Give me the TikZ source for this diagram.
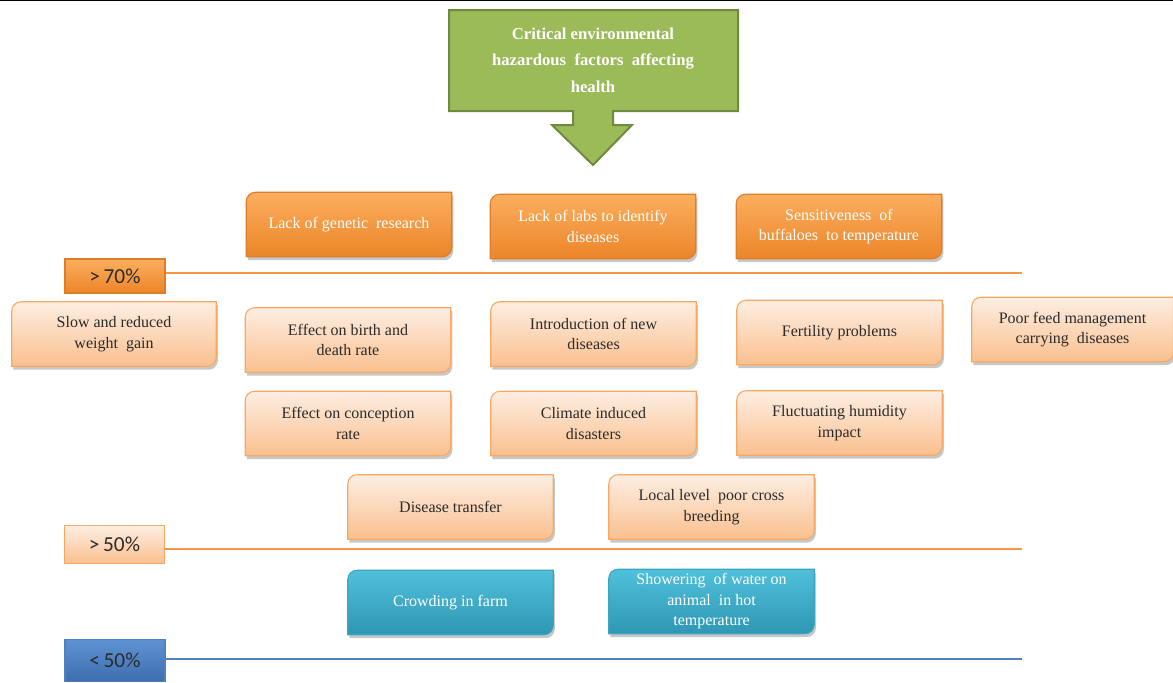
\documentclass[tikz,border=0pt]{standalone}
\usepackage{fontspec}
\setmainfont{Liberation Serif}
\newfontfamily\calib{Carlito}
\usetikzlibrary{backgrounds}
\definecolor{gfill}{HTML}{9BBB59}
\definecolor{gline}{HTML}{71893F}
\definecolor{otop}{HTML}{FBAE5E}
\definecolor{obot}{HTML}{EC8529}
\definecolor{oline}{HTML}{E07B28}
\definecolor{ltop}{HTML}{FDEEE2}
\definecolor{lbot}{HTML}{FAC08F}
\definecolor{lline}{HTML}{F8A862}
\definecolor{btop}{HTML}{4FC0DB}
\definecolor{bbot}{HTML}{2F97B3}
\definecolor{bline}{HTML}{3BA5C2}
\definecolor{ntop}{HTML}{5E93D3}
\definecolor{nbot}{HTML}{3D6EAF}
\definecolor{rule}{HTML}{F79646}
\definecolor{rulb}{HTML}{4F81BD}
\definecolor{txt}{HTML}{2B2B2B}
\tikzset{
  boxtext/.style={inner sep=0pt, minimum width=153.75pt, minimum height=48pt, align=center,
     font=\fontsize{12}{15.4}\selectfont},
  darkbox/.style={boxtext, text=white},
  lightbox/.style={boxtext, text=txt},
  bluebox/.style={boxtext, text=white},
  darkfill/.style={top color=otop, bottom color=obot, draw=oline, line width=0.8pt},
  lightfill/.style={top color=ltop, bottom color=lbot, draw=lline, line width=0.8pt},
  bluefill/.style={top color=btop, bottom color=bbot, draw=bline, line width=0.8pt},
  shadowfill/.style={fill=black, fill opacity=0.22},
  pct/.style={inner sep=0pt, minimum width=75pt, font=\calib\fontsize{16}{18}\selectfont, text=txt, line width=0.8pt},
  levelline/.style={line width=1.6pt},
}
% #1 node, #2 style, #3 radius, #4 dx, #5 dy
\newcommand{\dpath}[5]{%
  \path[#2]
    ([xshift=#4,yshift=#5-#3]#1.north west) arc[start angle=180,end angle=90,radius=#3]
    -- ([xshift=#4,yshift=#5]#1.north east) -- ([xshift=#4,yshift=#5+#3]#1.south east)
    arc[start angle=0,end angle=-90,radius=#3]
    -- ([xshift=#4,yshift=#5]#1.south west) -- cycle;}
\newcommand{\diagshape}[3]{%
  \begin{pgfonlayer}{background}
  \dpath{#1}{shadowfill}{#3}{1.2pt}{-2.6pt}
  \dpath{#1}{#2}{#3}{0pt}{0pt}
  \end{pgfonlayer}}
\begin{document}
\begin{tikzpicture}[x=0.75pt, y=-0.75pt]
\useasboundingbox (0,0) rectangle (1173,682);
\draw[black, line width=1.2pt] (0,0.6) -- (1173,0.6);

% title callout
\path[fill=gfill, draw=gline, line width=1.5pt, line join=miter]
  (449,10) -- (738,10) -- (738,111) -- (613,111) -- (613,125) -- (632,125) -- (593,165)
  -- (552,125) -- (573,125) -- (573,111) -- (449,111) -- cycle;
\node[text=white, align=center, font=\bfseries\fontsize{12.5}{20}\selectfont] (title) at (593,60)
  {Critical environmental\\hazardous\ \ factors\ \ affecting\\health};

% >70 level
\node[darkbox] (gen) at (349,224.5) {Lack of genetic\ \ research};
\node[darkbox] (labs) at (593,226.5) {Lack of labs to identify\\diseases};
\node[darkbox] (sens) at (839,226.5) {Sensitiveness\ \ of\\buffaloes\ \ to temperature};
\foreach \n in {gen,labs,sens} {\diagshape{\n}{darkfill}{7pt}}

\node[pct, minimum height=25.5pt, top color=otop, bottom color=obot, draw=oline] (p70) at (115,276) {>\,70\%};
\coordinate (e70) at (1022,273);
\draw[rule, levelline] (p70.east |- e70) -- (e70);

% >50 level
\node[lightbox, minimum width=153pt] (slow) at (114,334) {Slow and reduced\\weight\ \ gain};
\node[lightbox] (birth) at (348,340) {Effect on birth and\\death rate};
\node[lightbox] (intro) at (593.5,334) {Introduction of new\\diseases};
\node[lightbox] (fert) at (839.5,332.5) {Fertility problems};
\node[lightbox, minimum width=150.75pt] (poor) at (1072.5,329.5) {Poor feed management\\carrying\ \ diseases};
\node[lightbox] (conc) at (348,423.5) {Effect on conception\\rate};
\node[lightbox] (clim) at (593.5,423.5) {Climate induced\\disasters};
\node[lightbox] (fluc) at (839.5,423) {Fluctuating humidity\\impact};
\node[lightbox] (dis) at (450.5,507) {Disease transfer};
\node[lightbox] (local) at (711.5,507) {Local level\ \ poor cross\\breeding};
\foreach \n in {slow,birth,intro,fert,poor,conc,clim,fluc,dis,local} {\diagshape{\n}{lightfill}{7pt}}

\node[pct, minimum height=29pt, top color=ltop, bottom color=lbot, draw=lline] (p50) at (114.5,544.5) {>\,50\%};
\coordinate (e50) at (1022,549);
\draw[rule, levelline] (p50.east |- e50) -- (e50);

% <50 level
\node[bluebox] (crowd) at (450.5,602.5) {Crowding in farm};
\node[bluebox] (shower) at (711.5,601.5) {Showering\ \ of water on\\animal\ \ in hot\\temperature};
\foreach \n in {crowd,shower} {\diagshape{\n}{bluefill}{7pt}}

\node[pct, minimum height=32pt, top color=ntop, bottom color=nbot, draw=rulb] (p40) at (115,660.5) {<\,50\%};
\coordinate (e40) at (1022,659);
\draw[rulb, levelline] (p40.east |- e40) -- (e40);
\end{tikzpicture}
\end{document}
